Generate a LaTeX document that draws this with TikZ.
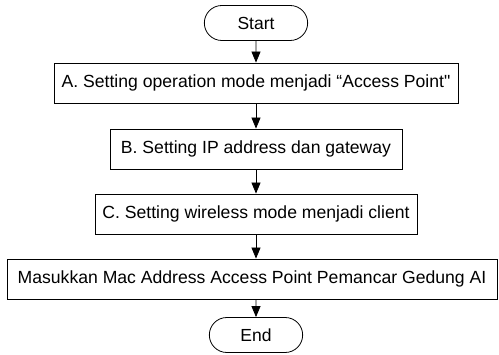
\documentclass[tikz,border=0pt]{standalone}
\usepackage{fontspec}
\newfontfamily\flowfont{Liberation Sans}
\usetikzlibrary{shapes.misc, arrows.meta, positioning}

\begin{document}
\begin{tikzpicture}[x=1pt, y=1pt,
    terminal/.style={draw, rounded rectangle, line width=0.8pt, minimum height=35pt, font=\flowfont\fontsize{17.5}{20}\selectfont},
    stepbox/.style={draw, rectangle, line width=0.8pt, minimum height=40pt, inner sep=0pt, font=\flowfont\fontsize{17.6}{20}\selectfont},
    flow/.style={-{Triangle[width=9pt,length=11pt]}, line width=0.8pt}]
\useasboundingbox (0,0) rectangle (499,355);

% Terminals
\node[terminal, minimum width=110pt] (start) at (256,332) {Start};
\node[terminal, minimum width=100pt] (end) at (256,20) {End};

% Steps
\node[stepbox, minimum width=404pt] (setmode) at (256,272) {A. Setting operation mode menjadi “Access Point"};
\node[stepbox, minimum width=292pt] (setip) at (256,206) {B. Setting IP address dan gateway};
\node[stepbox, minimum width=322pt] (setwlan) at (256,141) {C. Setting wireless mode menjadi client};
\node[stepbox, minimum width=490pt] (setmac) at (252,76) {Masukkan Mac Address Access Point Pemancar Gedung AI};

% Arrows
\draw[flow] (start) -- (setmode);
\draw[flow] (setmode) -- (setip);
\draw[flow] (setip) -- (setwlan);
\draw[flow] (setwlan) -- (setwlan |- setmac.north);
\draw[flow] (setmac.south -| end) -- (end);
\end{tikzpicture}
\end{document}
